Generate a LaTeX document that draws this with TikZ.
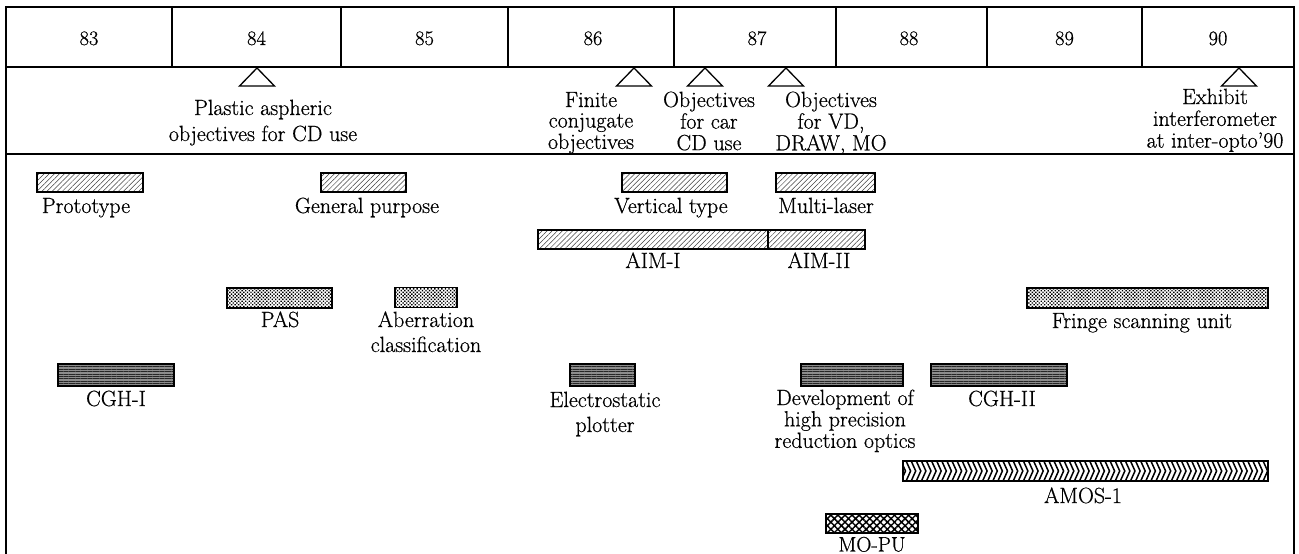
\documentclass[tikz,border=0pt]{standalone}
\usepackage{fontspec}
\setmainfont{Latin Modern Roman}[FakeBold=0.6]
\usetikzlibrary{patterns.meta}
% centred stack of lines whose baseline is that of the first line
\newcommand\stk[1]{\begin{tabular}[t]{@{}c@{}}#1\end{tabular}}
\begin{document}
\begin{tikzpicture}[x=1pt,y=-1pt,
  frame/.style={line width=1.4pt},
  lbl/.style={inner sep=0pt, anchor=base, font=\fontsize{22}{20.5}\selectfont},
  lblwide/.style={lbl, font=\fontsize{22}{25}\selectfont},
  yr/.style={inner sep=0pt, anchor=base, font=\fontsize{20.5}{24}\selectfont},
  bar/.style={draw, line width=1.2pt, inner sep=0pt, minimum height=19pt},
  hatchbar/.style={bar, preaction={fill=white}, pattern={Lines[angle=45,distance=3.6pt,line width=0.5pt]}, pattern color=black!75},
  dotbar/.style={bar, minimum height=20pt, preaction={fill=white}, pattern={Dots[radius=1pt,distance=2.5pt,angle=45]}, pattern color=black},
  stripebar/.style={bar, minimum height=22pt, preaction={fill=black!45}, pattern={Lines[angle=0,distance=2.4pt,line width=0.7pt]}, pattern color=black!85},
  meshbar/.style={bar, minimum height=20pt, preaction={fill=white}, pattern={Hatch[angle=45,distance=5pt,line width=1.5pt]}, pattern color=black},
  plainbar/.style={bar, minimum height=20pt, fill=white},
  marker/.style={line width=1.3pt, fill=white},
]
\useasboundingbox (0,0) rectangle (1299,554);
\clip (0,0) rectangle (1299,554);

% outer frame and the two header rows
\draw[frame] (6,560) -- (6,7) -- (1294,7) -- (1294,560);
\draw[frame] (6,67) -- (1294,67);
\draw[frame] (6,154) -- (1294,154);
\foreach \x in {172,341,508,674,836,987,1142}
  \draw[frame] (\x,7) -- (\x,67);

% years
\node[yr] (y83) at (89,45) {83};
\node[yr] (y84) at (256.5,45) {84};
\node[yr] (y85) at (424.5,45) {85};
\node[yr] (y86) at (593,45) {86};
\node[yr] (y87) at (757,45) {87};
\node[yr] (y88) at (909,45) {88};
\node[yr] (y89) at (1064.5,45) {89};
\node[yr] (y90) at (1218,45) {90};

% milestone markers
\foreach \x in {257,634,705,786,1239}
  \draw[marker] (\x-17.5,86) -- (\x,68) -- (\x+17.5,86) -- cycle;

% milestone texts
\node[lbl, font=\fontsize{22}{26}\selectfont] (ev84) at (263,115) {\stk{Plastic aspheric\\objectives for CD use}};
\node[lbl] (ev86a) at (591,107) {\stk{Finite\\conjugate\\objectives}};
\node[lbl] (ev86b) at (709,107) {\stk{Objectives\\for car\\CD use}};
\node[lbl] (ev87) at (831,107) {\stk{Objectives\\for VD,\\DRAW, MO}};
\node[lbl, font=\fontsize{22}{21.5}\selectfont] (ev90) at (1215,104) {\stk{Exhibit\\interferometer\\at inter-opto'90}};

% hatched bars
\node[hatchbar, minimum width=106pt] (proto) at (90,182.5) {};
\node[hatchbar, minimum width=85pt] (genp) at (363.5,182.5) {};
\node[hatchbar, minimum width=105pt] (vert) at (674.5,182.5) {};
\node[hatchbar, minimum width=99pt] (multi) at (825.5,182.5) {};
\node[hatchbar, minimum width=230pt] (aim1) at (653,239.5) {};
\node[hatchbar, minimum width=97pt] (aim2) at (816.5,239.5) {};

% dotted bars
\node[dotbar, minimum width=105pt] (pas) at (279.5,298) {};
\node[dotbar, minimum width=62pt] (aber) at (426,297.5) {};
\node[dotbar, minimum width=241pt] (fringe) at (1147.5,298) {};

% striped bars
\node[stripebar, minimum width=116pt] (cgh1) at (116,375) {};
\node[stripebar, minimum width=65pt] (elec) at (602.5,375) {};
\node[stripebar, minimum width=102pt] (devel) at (852,375) {};
\node[stripebar, minimum width=136pt] (cgh2) at (999,375) {};

% chevron bar
\node[plainbar, minimum width=365pt] (amos) at (1085.5,471) {};
\begin{scope}
  \clip (amos.south west) rectangle (amos.north east);
  \foreach \i in {0,...,72}
    \draw[line width=1.5pt] ({901+\i*5.1},461) -- ++(4.5,10) -- ++(-4.5,10);
\end{scope}
\draw[line width=1.2pt] (amos.south west) rectangle (amos.north east);

% mesh bar
\node[meshbar, minimum width=92pt, minimum height=19pt] (mopu) at (872,523.5) {};

% bar labels
\node[lbl] (tproto) at (86,213) {Prototype};
\node[lbl] (tgenp) at (367,213) {General purpose};
\node[lbl] (tvert) at (671,213) {Vertical type};
\node[lbl] (tmulti) at (826,213) {Multi-laser};
\node[lbl] (taim1) at (653,268) {AIM-I};
\node[lbl] (taim2) at (819,268) {AIM-II};
\node[lbl] (tpas) at (280,327) {PAS};
\node[lblwide] (taber) at (426,327) {\stk{Aberration\\classification}};
\node[lbl] (tfringe) at (1142,328) {Fringe scanning unit};
\node[lbl] (tcgh1) at (116,406) {CGH-I};
\node[lblwide] (telec) at (605,407) {\stk{Electrostatic\\plotter}};
\node[lbl] (tdevel) at (845,405) {\stk{Development of\\high precision\\reduction optics}};
\node[lbl] (tcgh2) at (1002,406) {CGH-II};
\node[lbl] (tamos) at (1083,503) {AMOS-1};
\node[lbl, font=\fontsize{21}{20}\selectfont] (tmopu) at (872,551.5) {MO-PU};
\end{tikzpicture}
\end{document}
